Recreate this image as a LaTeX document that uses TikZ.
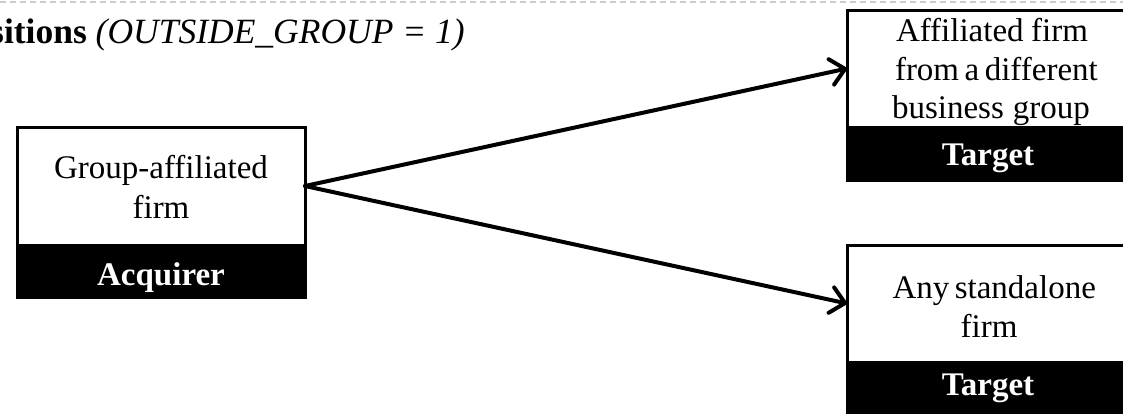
\documentclass[tikz,border=0pt]{standalone}
\usepackage{fontspec}
\setmainfont{Liberation Serif}
\usetikzlibrary{arrows.meta}
\begin{document}
\begin{tikzpicture}[x=1pt,y=-1pt,
  body/.style={font=\fontsize{33}{39}\selectfont, inner sep=0pt, anchor=base},
  lab/.style={font=\fontsize{33}{39}\selectfont\bfseries, text=white, inner sep=0pt, anchor=base},
  whitebox/.style={draw=black, line width=3pt, fill=white, inner sep=0pt, outer sep=0pt, anchor=north west},
  blackbox/.style={draw=black, line width=3pt, fill=black, inner sep=0pt, outer sep=0pt, anchor=north west},
  arr/.style={line width=4pt, line cap=round, -{Straight Barb[length=14pt, width=26pt, line cap=round, line join=round]}}
]
\useasboundingbox (0,0) rectangle (1123,413);
% top dashed rule
\draw[gray!40, line width=2pt, dash pattern=on 6pt off 4pt] (0,2) -- (1123,2);
% title
\node[anchor=base west, inner sep=0pt, font=\fontsize{35.5}{42}\selectfont] (title) at (-10,43)
  {\textbf{sitions} \textit{(OUTSIDE\_GROUP = 1)}};

% acquirer
\node[blackbox, minimum width=288pt, minimum height=52pt] (acqlab) at (17,245) {};
\node[whitebox, minimum width=288pt, minimum height=118pt] (acq) at (17,127) {};
\node[body] (acqa) at (161,178) {Group-affiliated};
\node[body] (acqb) at (161,218) {firm};
\node[lab] (acqc) at (161,285) {Acquirer};

% target 1
\node[blackbox, minimum width=286pt, minimum height=53pt] (t1lab) at (847,127) {};
\node[whitebox, minimum width=286pt, minimum height=117pt] (t1) at (847,10) {};
\node[body] (t1a) at (992,41) {\makebox[192pt][s]{Affiliated firm}};
\node[body] (t1b) at (994,80) {\makebox[198pt][s]{from a different}};
\node[body] (t1c) at (991,118) {\makebox[198pt][s]{business group}};
\node[lab] (t1d) at (988,165) {Target};

% target 2
\node[blackbox, minimum width=286pt, minimum height=60pt] (t2lab) at (847,362) {};
\node[whitebox, minimum width=286pt, minimum height=117pt] (t2) at (847,245) {};
\node[body] (t2a) at (993,298) {\makebox[201pt][s]{Any standalone}};
\node[body] (t2b) at (989,337) {firm};
\node[lab] (t2c) at (988,395) {Target};

% connectors
\draw[arr] (acq.east) -- (t1.west);
\draw[arr] (acq.east) -- (t2.west);
\end{tikzpicture}
\end{document}
